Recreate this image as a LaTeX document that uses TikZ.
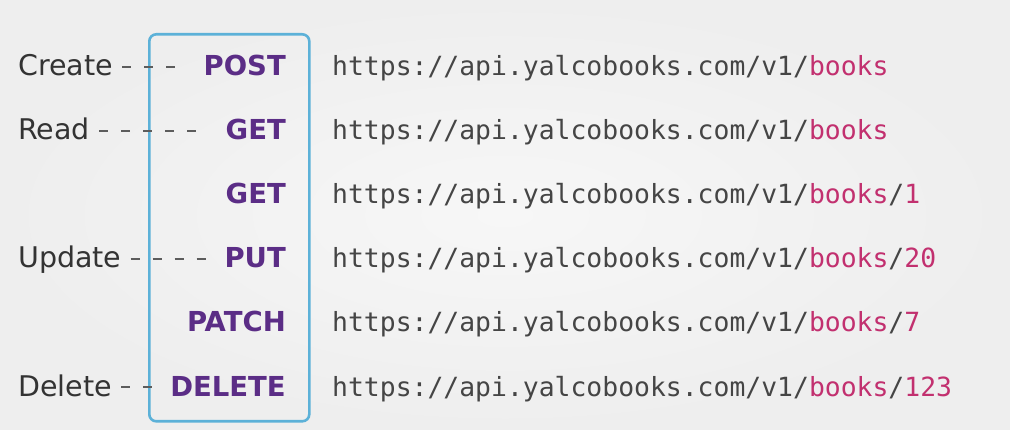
\documentclass[tikz,border=0pt]{standalone}
\usepackage{fontspec}
\setmainfont{DejaVu Sans}
\newfontfamily\urlfont{DejaVu Sans Mono}
\definecolor{bgc}{HTML}{EEEEEE}
\definecolor{bgin}{HTML}{F7F7F7}
\definecolor{labc}{HTML}{333333}
\definecolor{methc}{HTML}{5B2D86}
\definecolor{urlc}{HTML}{454545}
\definecolor{pinkc}{HTML}{C2306F}
\definecolor{boxc}{HTML}{5CB1D8}
\begin{document}
\begin{tikzpicture}[x=1pt,y=-1pt,
  lab/.style={anchor=base west,inner sep=0pt,text=labc,font=\fontsize{28.5}{31}\selectfont},
  meth/.style={anchor=base east,inner sep=0pt,text=methc,font=\bfseries\fontsize{27.5}{31}\selectfont},
  url/.style={anchor=base west,inner sep=0pt,text=urlc,font=\urlfont\fontsize{26.4}{30}\selectfont},
  dashc/.style={draw=labc!80,line width=1.8pt,dash pattern=on 9pt off 13pt},
  methbox/.style={draw=boxc,line width=2.6pt,rounded corners=7pt}]
\useasboundingbox (0,0) rectangle (1010,430);
\shade[inner color=bgin,outer color=bgc] (0,0) rectangle (1010,430);
\node[methbox,minimum width=160pt,minimum height=387pt,anchor=north west] (box) at (148,33) {};
% labels
\node[lab] (create) at (18,76) {Create};
\node[lab] (read) at (18,140) {Read};
\node[lab] (update) at (18,268) {Update};
\node[lab] (delete) at (18,396) {Delete};
% methods
\node[meth] (post) at (286,76) {POST};
\node[meth] (get1) at (286,140) {GET};
\node[meth] (get2) at (286,204) {GET};
\node[meth] (put) at (286,268) {PUT};
\node[meth] (patch) at (286,332) {PATCH};
\node[meth] (del) at (286,396) {DELETE};
% urls
\newcommand{\pre}{https://api.yalcobooks.com/v1/}
\newcommand{\bk}{\textcolor{pinkc}{books}}
\newcommand{\nm}[1]{\textcolor{pinkc}{#1}}
\node[url] (u1) at (332,76) {\pre\bk};
\node[url] (u2) at (332,140) {\pre\bk};
\node[url] (u3) at (332,204) {\pre\bk/\nm{1}};
\node[url] (u4) at (332,268) {\pre\bk/\nm{20}};
\node[url] (u5) at (332,332) {\pre\bk/\nm{7}};
\node[url] (u6) at (332,396) {\pre\bk/\nm{123}};
% dashed connectors
\draw[dashc] ([xshift=9pt,yshift=9pt]create.base east) -- ([xshift=-25pt,yshift=9pt]post.base west);
\draw[dashc] ([xshift=9pt,yshift=9pt]read.base east) -- ([xshift=-25pt,yshift=9pt]get1.base west);
\draw[dashc] ([xshift=9pt,yshift=9pt]update.base east) -- ([xshift=-16pt,yshift=9pt]put.base west);
\draw[dashc] ([xshift=9pt,yshift=9pt]delete.base east) -- ([xshift=-17pt,yshift=9pt]del.base west);
\end{tikzpicture}
\end{document}
